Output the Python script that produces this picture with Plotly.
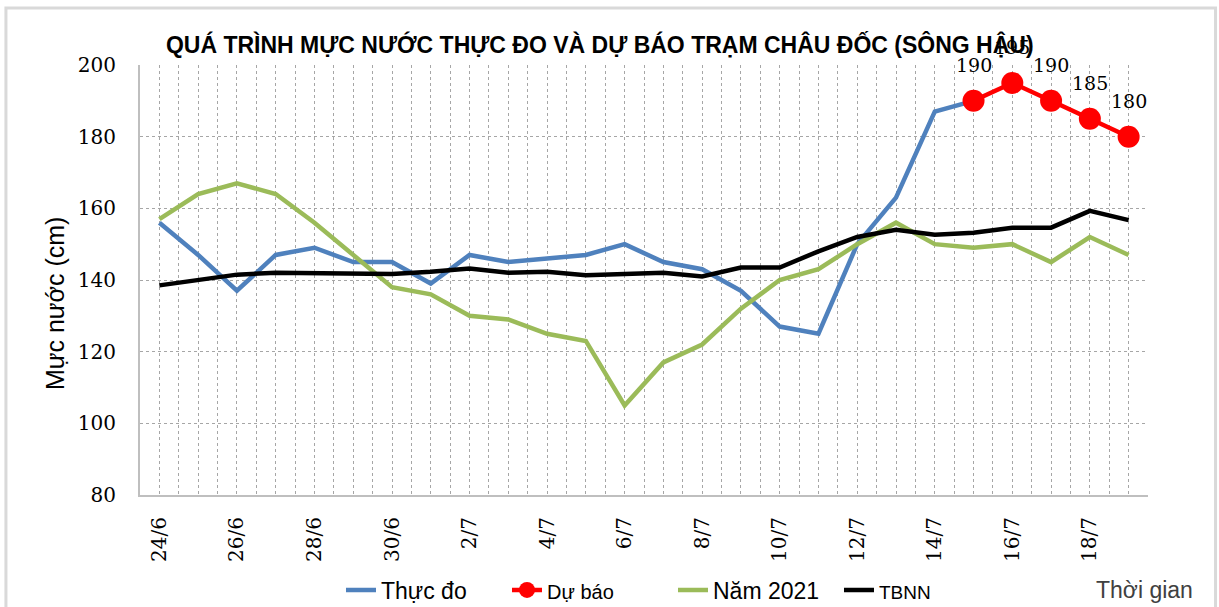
import plotly.graph_objects as go

# ---------------- data ----------------
dates = ["24/6", "25/6", "26/6", "27/6", "28/6", "29/6", "30/6",
         "1/7", "2/7", "3/7", "4/7", "5/7", "6/7", "7/7", "8/7", "9/7", "10/7",
         "11/7", "12/7", "13/7", "14/7", "15/7", "16/7", "17/7", "18/7", "19/7"]

thuc_do = [156, 147, 137, 147, 149, 145, 145, 139, 147, 145, 146, 147, 150,
           145, 143, 137, 127, 125, 150, 163, 187, 190, None, None, None, None]

du_bao = [None] * 21 + [190, 195, 190, 185, 180]

nam_2021 = [157, 164, 167, 164, 156, 147, 138, 136, 130, 129, 125, 123, 105,
            117, 122, 132, 140, 143, 150, 156, 150, 149, 150, 145, 152, 147]

tbnn = [138.5, 140, 141.5, 142, 142, 142, 141.7, 142.3, 143.2, 142, 142.3, 141.3,
        141.6, 142, 141, 143.5, 143.5, 148, 152, 154, 152.6, 153.2, 154.6, 154.6,
        159.3, 156.7]

y_ticks = [80, 100, 120, 140, 160, 180, 200]

# ---------------- figure ----------------
x_idx = list(range(len(dates)))
tick_idx = x_idx[::2]
tick_txt = dates[::2]

fig = go.Figure()

fig.add_trace(go.Scatter(x=x_idx, y=thuc_do, mode="lines", name="Thực đo",
                         line=dict(color="#4F81BD", width=4.5), legendrank=1))
fig.add_trace(go.Scatter(x=x_idx, y=nam_2021, mode="lines", name="Năm 2021",
                         line=dict(color="#9BBB59", width=4.5), legendrank=3))
fig.add_trace(go.Scatter(x=x_idx, y=tbnn, mode="lines",
                         name="<span style='font-size:19px'>TBNN</span>",
                         line=dict(color="#000000", width=4.5), legendrank=4))
fig.add_trace(go.Scatter(x=x_idx, y=du_bao, mode="lines+markers",
                         name="<span style='font-size:20px'>Dự báo</span>",
                         line=dict(color="#FF0000", width=4.5),
                         marker=dict(color="#FF0000", size=22), legendrank=2))

# data labels for the forecast
for xi, v in zip(x_idx, du_bao):
    if v is not None:
        fig.add_annotation(x=xi, y=v, text=str(v), showarrow=False, yshift=36,
                           font=dict(family="DejaVu Serif", size=19, color="#000000"))

grid_c = "#a6a6a6"

fig.update_xaxes(
    range=[-0.5, len(dates) - 0.5],
    tickmode="array", tickvals=tick_idx, ticktext=tick_txt,
    tickangle=-90,
    tickfont=dict(family="DejaVu Serif", size=20, color="#000000"),
    showgrid=True, gridcolor=grid_c, griddash="dot", gridwidth=1,
    minor=dict(tick0=-0.5, dtick=0.5, showgrid=True, gridcolor=grid_c,
               griddash="dot", gridwidth=1),
    showline=True, linecolor="#bfbfbf", linewidth=2,
    ticks="", zeroline=False, ticklabelstandoff=12, automargin=False,
)
fig.update_yaxes(
    range=[80, 200], tickmode="array", tickvals=y_ticks,
    tickfont=dict(family="DejaVu Serif", size=20, color="#000000"),
    showgrid=True, gridcolor=grid_c, griddash="dot", gridwidth=1,
    showline=True, linecolor="#bfbfbf", linewidth=2,
    ticks="", zeroline=False, ticklabelstandoff=18, automargin=False,
)

# outer chart border
fig.add_shape(type="rect", xref="paper", yref="paper",
              x0=-0.133, x1=1.067, y0=-0.3, y1=1.1326,
              line=dict(color="#d9d9d9", width=3), layer="below")

fig.add_annotation(xref="paper", yref="paper", x=-0.0843, y=0.444,
                   xanchor="center", yanchor="middle",
                   text="Mực nước (cm)", textangle=-90, showarrow=False,
                   font=dict(family="Liberation Sans", size=25, color="#000000"))
fig.add_annotation(xref="paper", yref="paper", x=0.997, y=-0.221,
                   xanchor="center", yanchor="middle",
                   text="Thời gian", showarrow=False,
                   font=dict(family="Liberation Sans", size=23, color="#404040"))

fig.update_layout(
    width=1219, height=607,
    margin=dict(l=140, r=71, t=65, b=112),
    paper_bgcolor="#ffffff", plot_bgcolor="#ffffff",
    title=dict(text="<b>QUÁ TRÌNH MỰC NƯỚC THỰC ĐO VÀ DỰ BÁO TRẠM CHÂU ĐỐC (SÔNG HẬU)</b>",
               x=0.492, xanchor="center", y=0.926, yanchor="middle",
               font=dict(family="Liberation Sans", size=23, color="#000000")),
    legend=dict(orientation="h", x=0.1994, xanchor="left",
                yref="container", y=0.028, yanchor="middle",
                font=dict(family="Liberation Sans", size=23, color="#000000"),
                bgcolor="rgba(0,0,0,0)", itemwidth=30, traceorder="normal",
                entrywidth=121, entrywidthmode="pixels"),
    showlegend=True,
)

fig.write_html("out.html", config={"displayModeBar": False},
               post_script="document.body.style.margin='0px';")
